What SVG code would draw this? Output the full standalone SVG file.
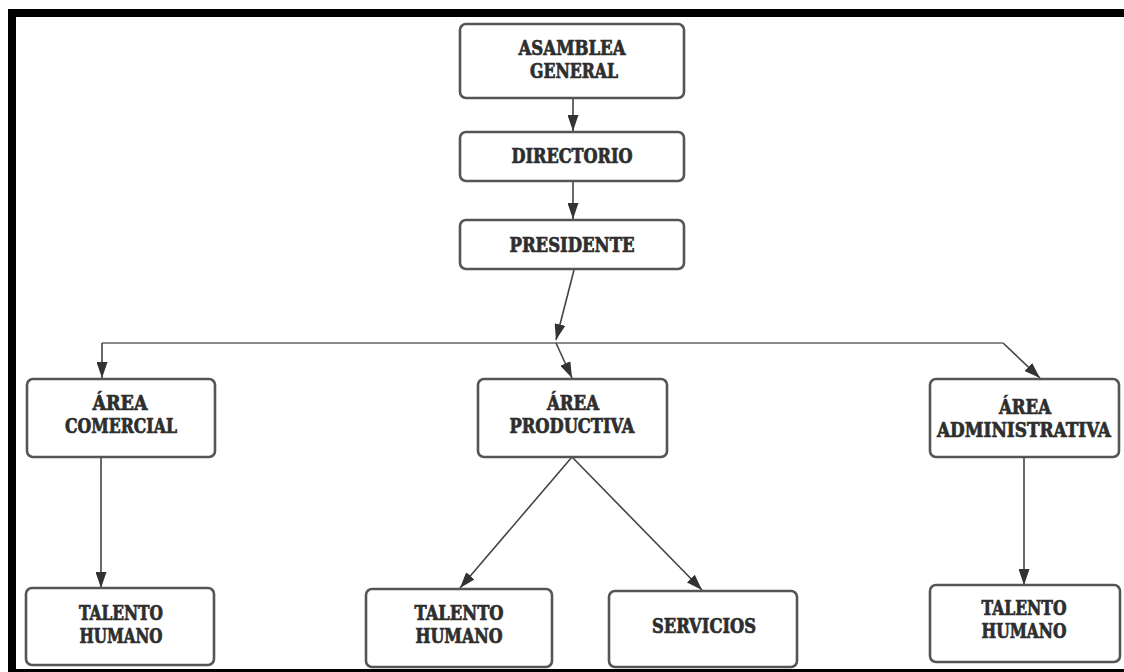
<svg xmlns="http://www.w3.org/2000/svg" width="1124" height="672" viewBox="0 0 1124 672">
<style>
.box{fill:#fff;stroke:#555;stroke-width:2.6}
.t{font-family:"DejaVu Serif Condensed","DejaVu Serif",serif;font-stretch:condensed;font-weight:bold;font-size:20px;fill:#2e2e2e;text-anchor:middle;stroke:#2e2e2e;stroke-width:0.7}
.c{fill:none;stroke:#444;stroke-width:1.6}
.h{fill:none;stroke:#666;stroke-width:1.3}
</style>
<defs>
<marker id="ah" markerUnits="userSpaceOnUse" markerWidth="17" markerHeight="11" refX="16" refY="5.5" orient="auto" viewBox="0 0 17 11">
<path d="M0,0 L16,5.5 L0,11 z" fill="#333"/>
</marker>
</defs>
<rect width="1124" height="672" fill="#fff"/>
<g id="frame" fill="#000">
<rect x="8" y="9" width="1116" height="8"/>
<rect x="8" y="9" width="8" height="663"/>
<rect x="8" y="669" width="1116" height="3"/>
</g>
<g id="connectors">
<line class="c" x1="573" y1="98" x2="573" y2="131" marker-end="url(#ah)"/>
<line class="c" x1="573" y1="181" x2="573" y2="219" marker-end="url(#ah)"/>
<line class="c" x1="574" y1="270" x2="556" y2="340" marker-end="url(#ah)"/>
<line class="h" x1="102" y1="343" x2="1003" y2="343"/>
<line class="c" x1="556" y1="343" x2="572" y2="378" marker-end="url(#ah)"/>
<line class="c" x1="102" y1="343" x2="102" y2="378" marker-end="url(#ah)"/>
<line class="c" x1="1003" y1="343" x2="1040" y2="378" marker-end="url(#ah)"/>
<line class="c" x1="101" y1="457" x2="101" y2="588" marker-end="url(#ah)"/>
<line class="c" x1="572" y1="457" x2="460" y2="588" marker-end="url(#ah)"/>
<line class="c" x1="572" y1="457" x2="702" y2="590" marker-end="url(#ah)"/>
<line class="c" x1="1024" y1="457" x2="1024" y2="585" marker-end="url(#ah)"/>
</g>
<g id="asamblea">
<rect class="box" x="460" y="24" width="224" height="74" rx="6"/>
<text class="t" x="572" y="55" textLength="107" lengthAdjust="spacingAndGlyphs">ASAMBLEA</text>
<text class="t" x="574" y="78" textLength="88" lengthAdjust="spacingAndGlyphs">GENERAL</text>
</g>
<g id="directorio">
<rect class="box" x="460" y="132" width="224" height="49" rx="6"/>
<text class="t" x="572" y="163" textLength="121" lengthAdjust="spacingAndGlyphs">DIRECTORIO</text>
</g>
<g id="presidente">
<rect class="box" x="460" y="220" width="224" height="49" rx="6"/>
<text class="t" x="572" y="252" textLength="125" lengthAdjust="spacingAndGlyphs">PRESIDENTE</text>
</g>
<g id="area-comercial">
<rect class="box" x="27" y="379" width="188" height="78" rx="6"/>
<text class="t" x="120" y="410" textLength="55" lengthAdjust="spacingAndGlyphs">ÁREA</text>
<text class="t" x="121" y="433" textLength="112" lengthAdjust="spacingAndGlyphs">COMERCIAL</text>
</g>
<g id="area-productiva">
<rect class="box" x="478" y="379" width="189" height="78" rx="6"/>
<text class="t" x="573" y="410" textLength="52" lengthAdjust="spacingAndGlyphs">ÁREA</text>
<text class="t" x="572" y="433" textLength="125" lengthAdjust="spacingAndGlyphs">PRODUCTIVA</text>
</g>
<g id="area-administrativa">
<rect class="box" x="930" y="379" width="189" height="78" rx="6"/>
<text class="t" x="1025" y="414" textLength="52" lengthAdjust="spacingAndGlyphs">ÁREA</text>
<text class="t" x="1024" y="437" textLength="174" lengthAdjust="spacingAndGlyphs">ADMINISTRATIVA</text>
</g>
<g id="talento-comercial">
<rect class="box" x="26" y="588" width="188" height="77" rx="6"/>
<text class="t" x="121" y="620" textLength="84" lengthAdjust="spacingAndGlyphs">TALENTO</text>
<text class="t" x="121" y="643" textLength="83" lengthAdjust="spacingAndGlyphs">HUMANO</text>
</g>
<g id="talento-productiva">
<rect class="box" x="366" y="589" width="186" height="78" rx="6"/>
<text class="t" x="459" y="620" textLength="89" lengthAdjust="spacingAndGlyphs">TALENTO</text>
<text class="t" x="459" y="643" textLength="87" lengthAdjust="spacingAndGlyphs">HUMANO</text>
</g>
<g id="servicios">
<rect class="box" x="609" y="591" width="188" height="76" rx="6"/>
<text class="t" x="704" y="633" textLength="104" lengthAdjust="spacingAndGlyphs">SERVICIOS</text>
</g>
<g id="talento-administrativa">
<rect class="box" x="930" y="585" width="190" height="77" rx="6"/>
<text class="t" x="1024" y="615" textLength="85" lengthAdjust="spacingAndGlyphs">TALENTO</text>
<text class="t" x="1024" y="638" textLength="85" lengthAdjust="spacingAndGlyphs">HUMANO</text>
</g>
</svg>
